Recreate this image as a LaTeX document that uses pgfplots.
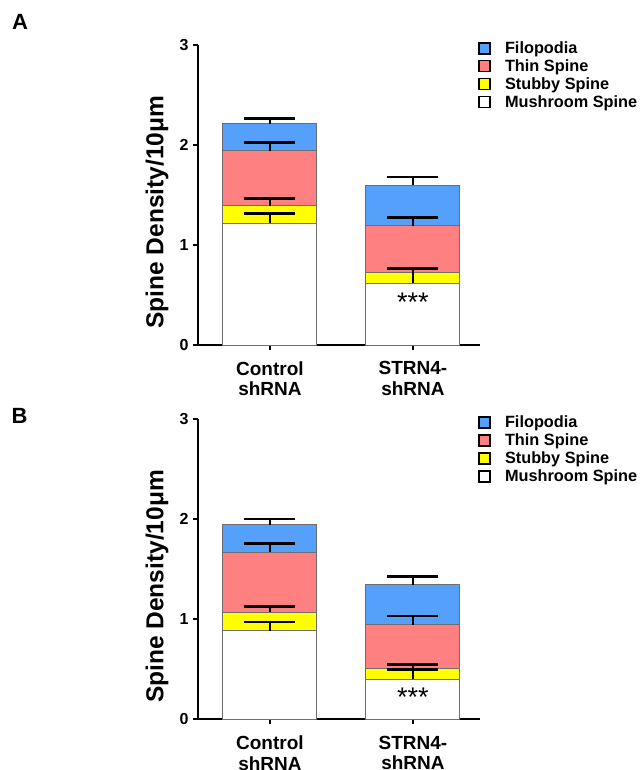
\documentclass[border=0pt]{standalone}
\usepackage{pgfplots}
\pgfplotsset{compat=1.18}
\usepackage{fontspec}
\setmainfont{Liberation Sans}
\definecolor{filo}{RGB}{85,160,250}
\definecolor{thin}{RGB}{255,128,128}
\definecolor{stubby}{RGB}{255,255,0}
\definecolor{bord}{RGB}{110,110,110}
\newcommand{\tickfont}{\fontsize{16}{16}\selectfont\bfseries}
\newcommand{\xlfont}{\fontsize{19}{20.5}\selectfont\bfseries}
\newcommand{\ylfont}{\fontsize{24.5}{24.5}\selectfont\bfseries}
\newcommand{\legfont}{\fontsize{16.3}{16.3}\selectfont\bfseries}
\pgfplotsset{
  panel/.style={
    scale only axis, width=282pt, height=300pt,
    anchor=south west,
    ybar, bar width=94pt, bar shift=0pt,
    xmin=-0.503, xmax=1.469, ymin=0, ymax=3,
    axis lines=left, axis line style={-, line width=2pt, black},
    tick align=outside, major tick length=5pt,
    every tick/.style={black, line width=2pt},
    xtick={0,1}, xticklabels={{Control\\shRNA},{STRN4-\\shRNA}},
    xticklabel style={align=center, font=\xlfont, inner sep=0pt, yshift=-11.5pt},
    ytick={0,1,2,3},
    yticklabel style={font=\tickfont, xshift=-1pt},
    /pgf/number format/assume math mode=true,
    ylabel={Spine Density/10μm},
    ylabel style={font=\ylfont, at={(axis description cs:-0.145,0.443)}, anchor=center, rotate=0},
    legend cell align=left,
    legend image code/.code={\draw[#1, draw=black, line width=1.6pt] (0pt,-5.5pt) rectangle (11pt,5.5pt); \path (24pt,0pt);},
    legend style={draw=none, fill=none, font=\legfont, at={(axis description cs:0.993,1.017)}, anchor=north west,
      row sep=1.6pt, inner sep=0pt, nodes={inner sep=1.5pt}},
    every axis plot/.append style={bar shift=0pt},
    clip=false,
  },
  barsty/.style={draw=bord, line width=1pt, bar shift=0pt},
  errsty/.style={draw=none, fill=none, forget plot, bar shift=0pt,
    error bars/.cd, y dir=plus, y explicit,
    error bar style={draw=black, line width=2.6pt},
    error mark options={rotate=90, draw=black, mark size=25.5pt, line width=2.6pt}},
}
\begin{document}
\begin{tikzpicture}
\useasboundingbox (0,0) rectangle (641pt,-770pt);
\node[font=\fontsize{22}{22}\selectfont\bfseries] at (20pt,-21.5pt) {A};
\node[font=\fontsize{22}{22}\selectfont\bfseries] at (19.5pt,-415.5pt) {B};
% Panel A
\begin{axis}[panel, at={(198pt,-345pt)}]
\addplot[barsty, fill=filo] coordinates {(0,2.210) (1,1.600)};
\addplot[barsty, fill=thin] coordinates {(0,1.943) (1,1.193)};
\addplot[barsty, fill=stubby] coordinates {(0,1.393) (1,0.723)};
\addplot[barsty, fill=white] coordinates {(0,1.217) (1,0.617)};
\legend{Filopodia, Thin Spine, Stubby Spine, Mushroom Spine}
\addplot[errsty] table[x=x, y=y, y error=e] {
x y e
0 1.217 0.096
1 0.617 0.146
};
\addplot[errsty] table[x=x, y=y, y error=e] {
x y e
0 1.393 0.070
1 0.723 0.047
};
\addplot[errsty] table[x=x, y=y, y error=e] {
x y e
0 1.943 0.080
1 1.193 0.084
};
\addplot[errsty] table[x=x, y=y, y error=e] {
x y e
0 2.210 0.057
1 1.600 0.080
};
\node[font=\fontsize{27}{27}\selectfont] at (axis cs:1,0.43) {***};
\end{axis}
% Panel B
\begin{axis}[panel, at={(198pt,-719.3pt)}]
\addplot[barsty, fill=filo] coordinates {(0,1.944) (1,1.346)};
\addplot[barsty, fill=thin] coordinates {(0,1.673) (1,0.948)};
\addplot[barsty, fill=stubby] coordinates {(0,1.072) (1,0.511)};
\addplot[barsty, fill=white] coordinates {(0,0.888) (1,0.400)};
\legend{Filopodia, Thin Spine, Stubby Spine, Mushroom Spine}
\addplot[errsty] table[x=x, y=y, y error=e] {
x y e
0 0.888 0.084
1 0.400 0.100
};
\addplot[errsty] table[x=x, y=y, y error=e] {
x y e
0 1.072 0.056
1 0.511 0.040
};
\addplot[errsty] table[x=x, y=y, y error=e] {
x y e
0 1.673 0.087
1 0.948 0.087
};
\addplot[errsty] table[x=x, y=y, y error=e] {
x y e
0 1.944 0.060
1 1.346 0.083
};
\node[font=\fontsize{27}{27}\selectfont] at (axis cs:1,0.22) {***};
\end{axis}
\end{tikzpicture}
\end{document}
